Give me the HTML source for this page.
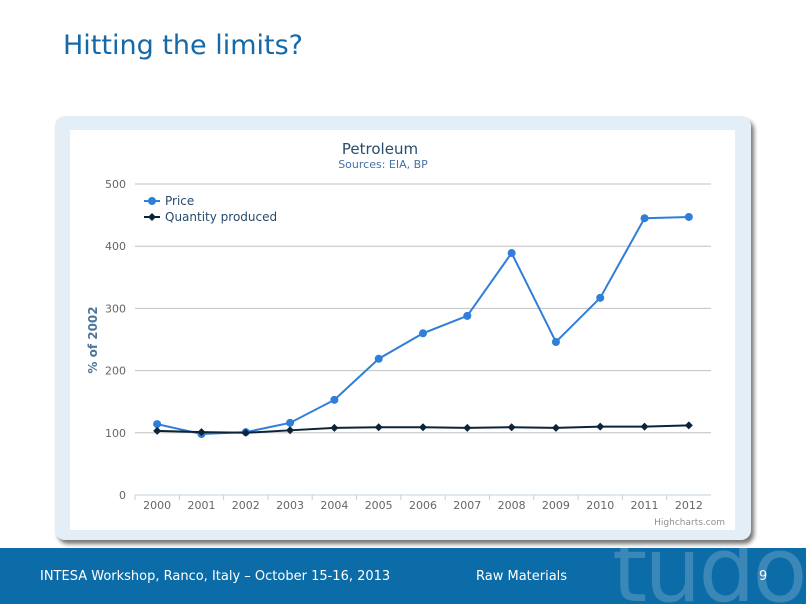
<!DOCTYPE html>
<html><head><meta charset="utf-8"><style>
body{margin:0;width:806px;height:604px;background:#fff;position:relative;overflow:hidden;font-family:"DejaVu Sans","Liberation Sans",sans-serif}
.t{position:absolute;left:63px;top:30px;font-size:27px;color:#1569a8}
.card{position:absolute;left:55px;top:116px;width:696px;height:424px;background:#e3eef6;border-radius:10px;box-shadow:3px 4px 4px #777}
.inner{position:absolute;left:15px;top:14px;width:665px;height:400px;background:#fff}
.foot{position:absolute;left:0;top:548px;width:806px;height:56px;background:#0b6ca7;color:#fff;font-size:13px;overflow:hidden}
</style></head><body>
<div class="t">Hitting the limits?</div>
<div class="card"><div class="inner"></div></div>
<svg id="c" width="806" height="604" style="position:absolute;left:0;top:0"></svg>
<div class="foot">
<span style="position:absolute;left:612px;top:-30px;font-size:90px;color:#3a87b8;letter-spacing:-3px">tudor</span>
<span style="position:absolute;left:40px;top:21px">INTESA Workshop, Ranco, Italy – October 15-16, 2013</span>
<span style="position:absolute;left:476px;top:21px">Raw Materials</span>
<span style="position:absolute;left:759px;top:21px">9</span>
</div>
<script>
const categories=["2000","2001","2002","2003","2004","2005","2006","2007","2008","2009","2010","2011","2012"];
const price=[114,98,101,116,153,219,260,288,389,246,317,445,447];
const quantity=[103,101,100,104,108,109,109,108,109,108,110,110,112];
const yTicks=[0,100,200,300,400,500];
const NS="http://www.w3.org/2000/svg",svg=document.getElementById('c');
const L=135,R=711,T=184,B=495,cw=(R-L)/categories.length;
const x=i=>L+cw*(i+0.5), y=v=>B-(v/500)*(B-T);
function mk(t,a,txt){const e=document.createElementNS(NS,t);for(const k in a)e.setAttribute(k,a[k]);if(txt!=null)e.textContent=txt;svg.appendChild(e);return e;}
let e;
e=mk('text',{x:380,y:154,'text-anchor':'middle','font-size':15,fill:'#274b6d','font-family':'DejaVu Sans,sans-serif'},'Petroleum');


e=mk('text',{x:383,y:168,'text-anchor':'middle','font-size':11,fill:'#4572a7','font-family':'DejaVu Sans,sans-serif'},'Sources: EIA, BP');


yTicks.forEach(v=>{
 e=mk('line',{x1:L,x2:R,y1:y(v),y2:y(v),stroke:v?'#c0c0c0':'#c0d0e0','stroke-width':1});
 
 
 e=mk('text',{x:126,y:y(v)+4,'text-anchor':'end','font-size':11,fill:'#666','font-family':'DejaVu Sans,sans-serif'},v);
 
 
});
categories.forEach((c,i)=>{
 e=mk('line',{x1:L+cw*i,x2:L+cw*i,y1:B,y2:B+5,stroke:'#c0d0e0'});
 
 
 e=mk('text',{x:x(i),y:509,'text-anchor':'middle','font-size':11,fill:'#666','font-family':'DejaVu Sans,sans-serif'},c);
 
 
});
e=mk('text',{x:97,y:340,'text-anchor':'middle','font-size':12,'font-weight':'bold',fill:'#4d759e',transform:'rotate(-90 97 340)','font-family':'DejaVu Sans,sans-serif'},'% of 2002');


function series(d,col,diamond,name){
 e=mk('polyline',{points:d.map((v,i)=>x(i)+','+y(v)).join(' '),fill:'none',stroke:col,'stroke-width':2});
 
 
 d.forEach((v,i)=>{
  if(diamond)e=mk('polygon',{points:`${x(i)},${y(v)-4} ${x(i)+4},${y(v)} ${x(i)},${y(v)+4} ${x(i)-4},${y(v)}`,fill:col});
  else e=mk('circle',{cx:x(i),cy:y(v),r:4,fill:col});
  
  
 });
}
series(price,'#2f7ed8',false,'price');
series(quantity,'#0d233a',true,'quantity');
[['Price','#2f7ed8',false,201],['Quantity produced','#0d233a',true,217]].forEach(([n,col,dm,yy])=>{
 mk('line',{x1:144,x2:160,y1:yy,y2:yy,stroke:col,'stroke-width':2});
 if(dm)mk('polygon',{points:`152,${yy-4} 156,${yy} 152,${yy+4} 148,${yy}`,fill:col});else mk('circle',{cx:152,cy:yy,r:4,fill:col});
 e=mk('text',{x:165,y:yy+4,'font-size':12,fill:'#274b6d','font-family':'DejaVu Sans,sans-serif'},n);
 
 
});
e=mk('text',{x:725,y:525,'text-anchor':'end','font-size':9,fill:'#909090','font-family':'DejaVu Sans,sans-serif'},'Highcharts.com');


</script>
</body></html>
